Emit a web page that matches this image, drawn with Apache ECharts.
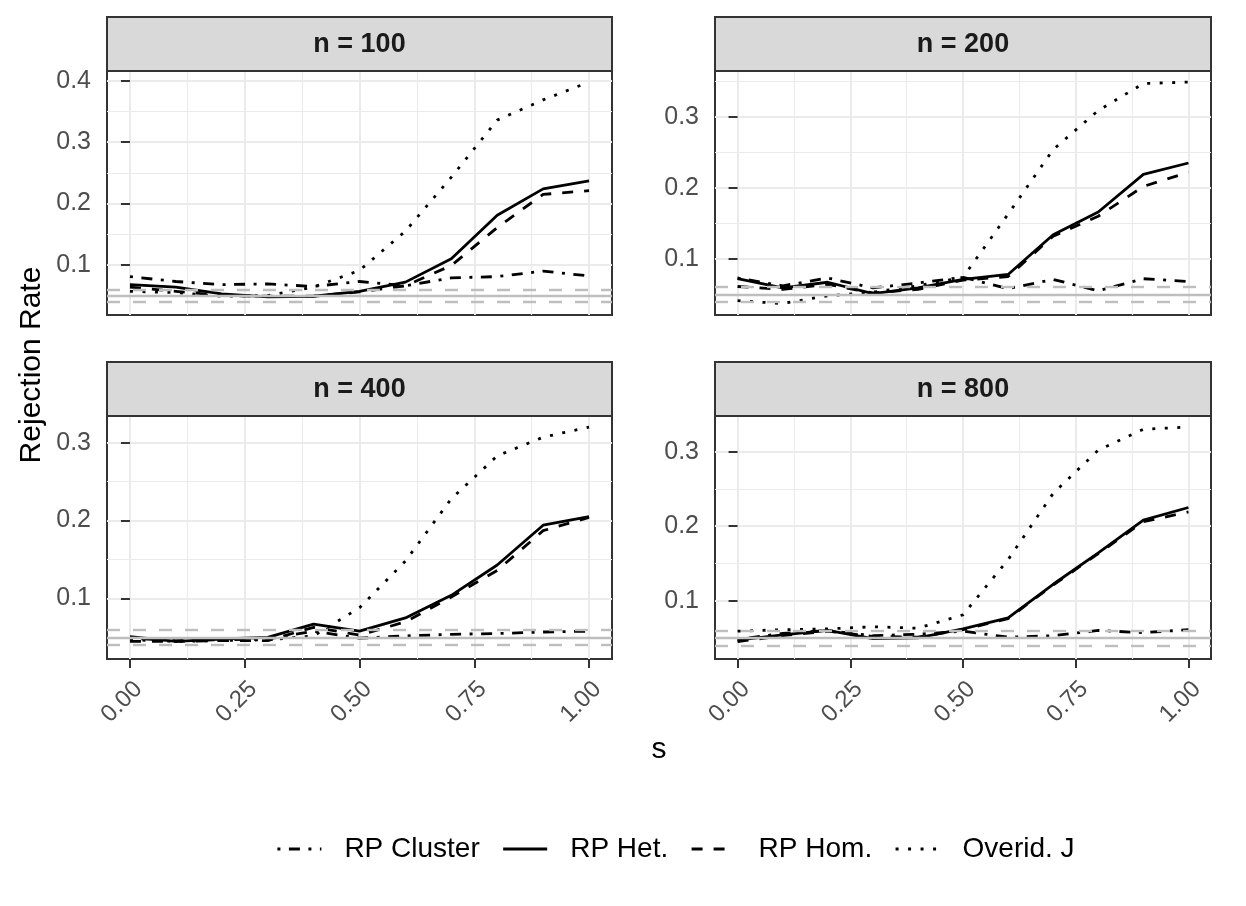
<!DOCTYPE html>
<html><head><meta charset="utf-8">
<script src="https://cdn.jsdelivr.net/npm/echarts@6/dist/echarts.min.js"></script>
<style>html,body{margin:0;padding:0;background:#fff}#c{width:1246px;height:906px}</style>
</head><body><div id="c"></div>
<script>
// ---- data ----
const sValues = [0, 0.1, 0.2, 0.3, 0.4, 0.5, 0.6, 0.7, 0.8, 0.9, 1.0];
const panelTitles = ['n = 100', 'n = 200', 'n = 400', 'n = 800'];
const seriesNames = ['RP Cluster', 'RP Het.', 'RP Hom.', 'Overid. J'];

const cluster100 = [0.081, 0.073, 0.068, 0.069, 0.065, 0.073, 0.066, 0.079, 0.081, 0.090, 0.082];
const het100     = [0.068, 0.064, 0.053, 0.048, 0.049, 0.057, 0.072, 0.110, 0.181, 0.224, 0.237];
const hom100     = [0.064, 0.057, 0.050, 0.049, 0.049, 0.056, 0.066, 0.099, 0.161, 0.215, 0.221];
const overid100  = [0.057, 0.055, 0.049, 0.050, 0.064, 0.091, 0.155, 0.243, 0.336, 0.369, 0.398];

const cluster200 = [0.073, 0.062, 0.073, 0.059, 0.066, 0.074, 0.058, 0.071, 0.055, 0.072, 0.068];
const het200     = [0.072, 0.059, 0.067, 0.051, 0.059, 0.071, 0.078, 0.134, 0.166, 0.219, 0.235];
const hom200     = [0.061, 0.057, 0.064, 0.052, 0.057, 0.070, 0.075, 0.132, 0.160, 0.202, 0.222];
const overid200  = [0.041, 0.037, 0.048, 0.053, 0.062, 0.074, 0.163, 0.254, 0.309, 0.347, 0.349];

const cluster400 = [0.049, 0.046, 0.047, 0.048, 0.058, 0.049, 0.052, 0.054, 0.055, 0.057, 0.058];
const het400     = [0.051, 0.045, 0.048, 0.050, 0.067, 0.058, 0.075, 0.104, 0.143, 0.194, 0.205];
const hom400     = [0.045, 0.045, 0.046, 0.046, 0.063, 0.053, 0.070, 0.102, 0.136, 0.187, 0.204];
const overid400  = [0.047, 0.045, 0.046, 0.047, 0.052, 0.088, 0.148, 0.228, 0.283, 0.307, 0.320];

const cluster800 = [0.048, 0.056, 0.060, 0.053, 0.055, 0.059, 0.051, 0.053, 0.060, 0.057, 0.061];
const het800     = [0.047, 0.054, 0.060, 0.049, 0.050, 0.062, 0.077, 0.122, 0.164, 0.208, 0.225];
const hom800     = [0.045, 0.053, 0.059, 0.052, 0.051, 0.061, 0.076, 0.121, 0.163, 0.206, 0.219];
const overid800  = [0.059, 0.061, 0.062, 0.065, 0.063, 0.081, 0.155, 0.244, 0.302, 0.330, 0.333];

const refCenter = [0.05];
const refBounds = [0.0365, 0.0635];
const xTicks = [0, 0.25, 0.5, 0.75, 1];
const xTickLabels = ['0.00', '0.25', '0.50', '0.75', '1.00'];
const xMinorTicks = [0.125, 0.375, 0.625, 0.875];
const yTicks = [0.1, 0.2, 0.3, 0.4];
const yTickLabels = ['0.1', '0.2', '0.3', '0.4'];
const yMinorTicks = [0.05, 0.15, 0.25, 0.35];

const panelData = [
  [cluster100, het100, hom100, overid100],
  [cluster200, het200, hom200, overid200],
  [cluster400, het400, hom400, overid400],
  [cluster800, het800, hom800, overid800]
];

// ---- styling / layout ----
const FONT = 'Liberation Sans, Arial, Helvetica, sans-serif';
const lineW = 2.8;
const dashTypes = [[3, 8.5, 11, 8.5], 'solid', [11, 11], [3, 9.5]];
const grids = [
  {left: 107, top: 71, width: 505, height: 244},
  {left: 715, top: 71, width: 496, height: 244},
  {left: 107, top: 416, width: 505, height: 243},
  {left: 715, top: 416, width: 496, height: 243}
];
const stripH = 54;

function yLimits(arrs) {
  let lo = Infinity, hi = -Infinity;
  arrs.forEach(a => a.forEach(v => { lo = Math.min(lo, v); hi = Math.max(hi, v); }));
  refCenter.concat(refBounds).forEach(v => { lo = Math.min(lo, v); hi = Math.max(hi, v); });
  const r = hi - lo;
  return [lo - 0.05 * r, hi + 0.05 * r];
}
const xMin = xTicks[0] - 0.05 * (xTicks[xTicks.length - 1] - xTicks[0]);
const xMax = xTicks[xTicks.length - 1] + 0.05 * (xTicks[xTicks.length - 1] - xTicks[0]);

const xAxes = [], yAxes = [], series = [], graphics = [];
grids.forEach((g, i) => {
  const bottomRow = i >= 2;
  const [ymin, ymax] = yLimits(panelData[i]);
  const yt = yTicks.filter(v => v >= ymin && v <= ymax);
  xAxes.push({
    type: 'value', gridIndex: i, min: xMin, max: xMax, position: 'bottom',
    axisLine: {show: false},
    axisTick: {show: bottomRow, customValues: xTicks, length: 9, lineStyle: {color: '#333333', width: 2}},
    axisLabel: {show: bottomRow, customValues: xTicks, rotate: 45, margin: 18, verticalAlign: 'top',
      color: '#4D4D4D', fontSize: 24, fontFamily: FONT,
      formatter: v => xTickLabels[xTicks.indexOf(v)] ?? v.toFixed(2)},
    splitLine: {show: true, lineStyle: {color: '#EBEBEB', width: 2}}
  });
  yAxes.push({
    type: 'value', gridIndex: i, min: ymin, max: ymax, position: 'left',
    axisLine: {show: false},
    axisTick: {show: true, customValues: yt, length: 9, lineStyle: {color: '#333333', width: 2}},
    axisLabel: {show: true, customValues: yt, margin: 16, color: '#4D4D4D', fontSize: 25, fontFamily: FONT,
      formatter: v => yTickLabels[yTicks.indexOf(v)] ?? v.toFixed(1)},
    splitLine: {show: true, lineStyle: {color: '#EBEBEB', width: 2}}
  });
  graphics.push({
    type: 'rect', shape: {x: g.left, y: g.top - stripH, width: g.width, height: stripH},
    style: {fill: '#D9D9D9', stroke: '#333333', lineWidth: 2}, z: 10
  });
  graphics.push({
    type: 'text', x: g.left + g.width / 2, y: g.top - stripH / 2 + 1,
    style: {text: panelTitles[i], fill: '#1A1A1A', font: 'bold 27px ' + FONT, textAlign: 'center', textVerticalAlign: 'middle'}, z: 11
  });
});
// minor grid axes
grids.forEach((g, i) => {
  const [ymin, ymax] = yLimits(panelData[i]);
  xAxes.push({
    type: 'value', gridIndex: i, min: xMin, max: xMax, position: 'top',
    axisLine: {show: false}, axisLabel: {show: false},
    axisTick: {show: false, customValues: xMinorTicks},
    splitLine: {show: true, lineStyle: {color: '#EBEBEB', width: 1.1}}
  });
  yAxes.push({
    type: 'value', gridIndex: i, min: ymin, max: ymax, position: 'right',
    axisLine: {show: false}, axisLabel: {show: false},
    axisTick: {show: false, customValues: yMinorTicks.filter(v => v >= ymin && v <= ymax)},
    splitLine: {show: true, lineStyle: {color: '#EBEBEB', width: 1.1}}
  });
});

grids.forEach((g, i) => {
  series.push({
    type: 'line', name: 'ref-center', xAxisIndex: i, yAxisIndex: i, data: [], z: 2, silent: true,
    markLine: {
      silent: true, symbol: ['none', 'none'], label: {show: false}, animation: false,
      lineStyle: {color: '#BEBEBE', width: 2.4, type: 'solid'},
      data: refCenter.map(v => ({yAxis: v}))
    }
  });
  series.push({
    type: 'line', name: 'ref-bounds', xAxisIndex: i, yAxisIndex: i, data: [], z: 2, silent: true,
    markLine: {
      silent: true, symbol: ['none', 'none'], label: {show: false}, animation: false,
      lineStyle: {color: '#BEBEBE', width: 2.4, type: [13, 13]},
      data: refBounds.map(v => ({yAxis: v}))
    }
  });
  panelData[i].forEach((arr, k) => {
    series.push({
      type: 'line', name: seriesNames[k], xAxisIndex: i, yAxisIndex: i,
      data: sValues.map((s, j) => [s, arr[j]]),
      symbol: 'none', showSymbol: false, silent: true, z: 3,
      itemStyle: {color: '#000000'},
      lineStyle: {color: '#000000', width: lineW, type: dashTypes[k], cap: 'butt'}
    });
  });
});

graphics.push({
  type: 'text', x: 32, y: (grids[0].top + grids[2].top + grids[2].height) / 2, rotation: Math.PI / 2,
  style: {text: 'Rejection Rate', fill: '#000', font: '30px ' + FONT, textAlign: 'center', textVerticalAlign: 'middle'}
});
graphics.push({
  type: 'text', x: (grids[0].left + grids[1].left + grids[1].width) / 2, y: 750,
  style: {text: 's', fill: '#000', font: '30px ' + FONT, textAlign: 'center', textVerticalAlign: 'middle'}
});

const chart = echarts.init(document.getElementById('c'), null, {renderer: 'canvas'});
chart.setOption({
  animation: false,
  backgroundColor: '#ffffff',
  textStyle: {fontFamily: FONT},
  grid: grids.map(g => Object.assign({show: true, borderColor: '#333333', borderWidth: 2, backgroundColor: '#ffffff', containLabel: false}, g)),
  xAxis: xAxes,
  yAxis: yAxes,
  legend: {
    data: seriesNames, top: 830, left: 271, itemWidth: 44, itemHeight: 14, itemGap: 22,
    textStyle: {fontSize: 28, color: '#000', fontFamily: FONT, padding: [0, 0, 0, 18]},
    itemStyle: {opacity: 0},
    lineStyle: {width: lineW, color: '#000'}
  },
  series: series,
  graphic: graphics
});
</script>
</body></html>
